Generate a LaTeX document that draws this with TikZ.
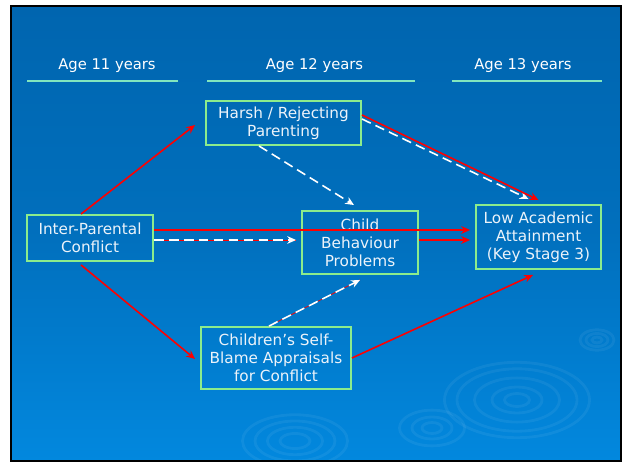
\documentclass[tikz,border=0pt]{standalone}
\usepackage{fontspec}
\setmainfont{DejaVu Sans}
\usetikzlibrary{arrows.meta}
\definecolor{sbluetop}{RGB}{0,101,175}
\definecolor{sbluebot}{RGB}{2,136,222}
\definecolor{sgreen}{RGB}{140,236,140}
\definecolor{sline}{RGB}{130,230,190}
\definecolor{stext}{RGB}{236,243,250}
\definecolor{sred}{RGB}{255,0,0}

\begin{document}
\begin{tikzpicture}[
  font=\fontsize{8.7}{10.2}\selectfont,
  every node/.style={text=stext},
  var/.style={draw=sgreen,line width=1.1pt,align=center,inner sep=0pt},
  age/.style={font=\fontsize{8.4}{9.6}\selectfont,text=white},
  link/.style={sred,line width=0.9pt,-{Stealth[length=5pt,width=4.4pt]}},
  med/.style={white,line width=0.9pt,dash pattern=on 5.5pt off 3pt,-{Stealth[length=5pt,width=4.4pt]}},
  both/.style={med,preaction={draw=sred,solid,-}},
  ripple/.style={white,opacity=0.06,line width=1.6pt}]

% slide
\useasboundingbox (0,0) rectangle (12.48,9.24);
\fill[white] (0,0) rectangle (12.48,9.24);
\shade[top color=sbluetop,bottom color=sbluebot,middle color=sbluetop!70!sbluebot]
      (0.22,0.02) rectangle (12.42,9.12);

% ripples
\begin{scope}
  \clip (0.22,0.02) rectangle (12.42,9.12);
  \foreach \r in {0.3,0.55,0.8,1.05} \draw[ripple] (5.9,0.42) ellipse ({\r} and {0.5*\r});
  \foreach \r in {0.2,0.4,0.65} \draw[ripple] (8.64,0.68) ellipse ({\r} and {0.55*\r});
  \foreach \r in {0.25,0.5,0.85,1.2,1.45} \draw[ripple] (10.34,1.24) ellipse ({\r} and {0.52*\r});
  \foreach \r in {0.1,0.22,0.34} \draw[ripple] (11.94,2.44) ellipse ({\r} and {0.6*\r});
\end{scope}
\draw[black,line width=0.05cm] (0.22,0.02) rectangle (12.42,9.12);

% age headings
\node[age] (a11) at (2.14,7.92) {Age 11 years};
\node[age] (a12) at (6.29,7.92) {Age 12 years};
\node[age] (a13) at (10.46,7.92) {Age 13 years};
\draw[sline,line width=0.8pt] (0.54,7.62) -- (3.56,7.62);
\draw[sline,line width=0.8pt] (4.14,7.62) -- (8.30,7.62);
\draw[sline,line width=0.8pt] (9.04,7.62) -- (12.04,7.62);

% nodes
\node[var,minimum width=3.10cm,minimum height=0.88cm] (harsh) at (5.67,6.78) {Harsh / Rejecting\\Parenting};
\node[var,minimum width=2.52cm,minimum height=0.92cm] (ipc) at (1.80,4.48) {Inter-Parental\\Conflict};
\node[var,minimum width=2.32cm,minimum height=1.26cm] (cbp) at (7.20,4.39) {Child\\Behaviour\\Problems};
\node[var,minimum width=2.50cm,minimum height=1.28cm] (low) at (10.77,4.50) {Low Academic\\Attainment\\(Key Stage 3)};
\node[var,minimum width=3.00cm,minimum height=1.24cm] (blame) at (5.52,2.08) {Children’s Self-\\Blame Appraisals\\for Conflict};

% dashed paths
\draw[med] ([yshift=0.08cm]harsh.east) -- ([xshift=-0.2cm,yshift=0.1cm]low.north);
\draw[med] ([xshift=-0.49cm]harsh.south) -- ([xshift=-0.12cm,yshift=0.1cm]cbp.north);
\draw[both,shorten >=0.1cm] ([yshift=-0.04cm]ipc.east) -- ([yshift=-0.04cm]ipc.east -| cbp.west);
\draw[both] ([xshift=-0.14cm]blame.north) -- ([yshift=-0.1cm]cbp.south);

% red paths
\draw[link] ([xshift=-0.18cm]ipc.north) -- ([xshift=-0.2cm,yshift=-0.04cm]harsh.west);
\draw[link] ([xshift=-0.18cm,yshift=-0.06cm]ipc.south) -- ([xshift=-0.1cm,yshift=-0.02cm]blame.west);
\draw[link,shorten >=0.1cm] ([yshift=0.16cm]ipc.east) -- ([yshift=0.16cm]ipc.east -| low.west);
\draw[link,shorten >=0.1cm] ([yshift=0.05cm]cbp.east) -- ([yshift=0.05cm]cbp.east -| low.west);
\draw[link] ([yshift=0.16cm]harsh.east) -- ([yshift=0.08cm]low.north);
\draw[link] (blame.east) -- ([xshift=-0.11cm,yshift=-0.1cm]low.south);
\end{tikzpicture}
\end{document}
